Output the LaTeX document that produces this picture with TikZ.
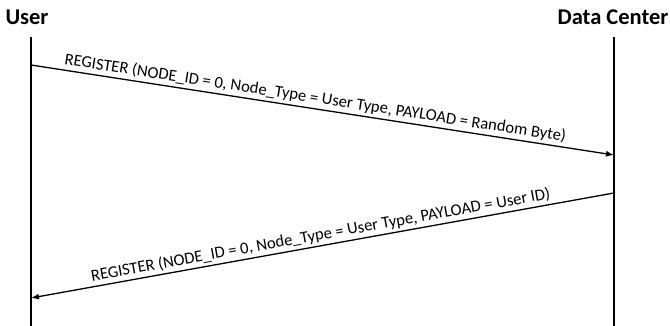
\documentclass[tikz,border=0pt]{standalone}
\usepackage{fontspec}
\setmainfont{Carlito}
\usetikzlibrary{arrows.meta}
\tikzset{
  >={Latex[length=8pt,width=6pt]},
  actor/.style={font=\bfseries\fontsize{22.5}{22.5}\selectfont,inner sep=0pt},
  life/.style={line width=2.2pt},
  msg/.style={->,line width=1.3pt},
  lbl/.style={above,sloped,font=\fontsize{16.6}{16.6}\selectfont,inner sep=2.5pt},
}
\begin{document}
\begin{tikzpicture}[x=1pt,y=-1pt]
\useasboundingbox (0,0) rectangle (670,326);
\node[actor] (user) at (27,17){User};
\node[actor] (dc) at (613,17){Data Center};
\coordinate (u0) at (31,37); \coordinate (u1) at (31,326);
\coordinate (d0) at (614,37); \coordinate (d1) at (614,326);
\coordinate (ua) at (31,65); \coordinate (da) at (614,155);
\coordinate (db) at (614,193); \coordinate (ub) at (31,298);
\draw[life] (u0)--(u1); \draw[life] (d0)--(d1);
\draw[msg] (ua)--node[lbl,pos=0.485]{REGISTER (NODE\_ID = 0, Node\_Type = User Type, PAYLOAD = Random Byte)}(da);
\draw[msg] (db)--node[lbl,pos=0.5]{REGISTER (NODE\_ID = 0, Node\_Type = User Type, PAYLOAD = User ID)}(ub);
\end{tikzpicture}
\end{document}
